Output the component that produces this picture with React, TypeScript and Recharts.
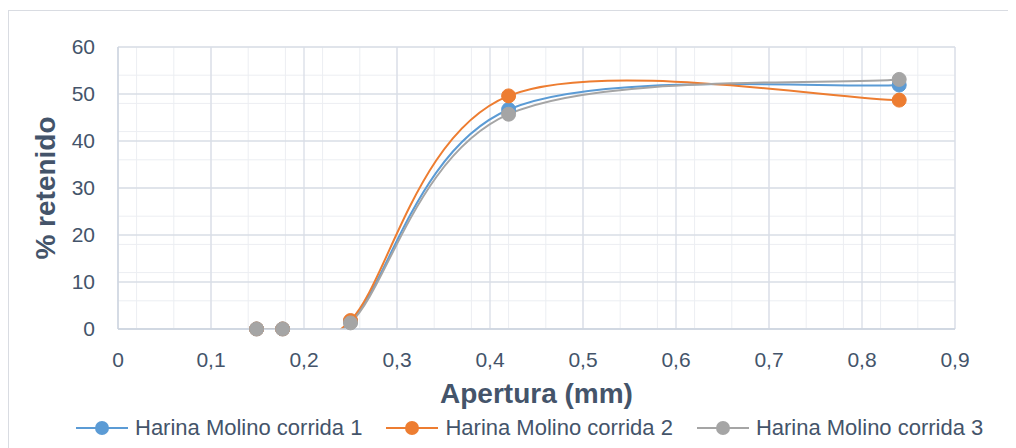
import React from 'react';
import { LineChart, Line, XAxis, YAxis, CartesianGrid, Legend, Label } from 'recharts';

const aperturas = [0.149, 0.177, 0.25, 0.42, 0.84];
const corrida1 = [0, 0, 1.6, 46.7, 51.9];
const corrida2 = [0, 0, 1.8, 49.6, 48.7];
const corrida3 = [0, 0, 1.3, 45.7, 53.1];
const seriesNames = ['Harina Molino corrida 1', 'Harina Molino corrida 2', 'Harina Molino corrida 3'];
const seriesColors = ['#5b9bd5', '#ed7d31', '#a5a5a5'];
const xTicks = [0, 0.1, 0.2, 0.3, 0.4, 0.5, 0.6, 0.7, 0.8, 0.9];
const yTicks = [0, 10, 20, 30, 40, 50, 60];
const xMinorTicks = [0, 0.02, 0.04, 0.06, 0.08, 0.1, 0.12, 0.14, 0.16, 0.18, 0.2, 0.22, 0.24, 0.26, 0.28, 0.3, 0.32, 0.34, 0.36, 0.38, 0.4, 0.42, 0.44, 0.46, 0.48, 0.5, 0.52, 0.54, 0.56, 0.58, 0.6, 0.62, 0.64, 0.66, 0.68, 0.7, 0.72, 0.74, 0.76, 0.78, 0.8, 0.82, 0.84, 0.86, 0.88, 0.9];
const yMinorTicks = [0, 2, 4, 6, 8, 10, 12, 14, 16, 18, 20, 22, 24, 26, 28, 30, 32, 34, 36, 38, 40, 42, 44, 46, 48, 50, 52, 54, 56, 58, 60];

const data = aperturas.map((x, i) => ({ x, s1: corrida1[i], s2: corrida2[i], s3: corrida3[i] }));
const keys = ['s1', 's2', 's3'];

const TEXT = '#44546a';
const FONT = "'Liberation Sans', Arial, sans-serif";

// Excel-like smoothing (Catmull-Rom converted to cubic Bezier)
function excelCurve(context: any) {
  let pts: number[][] = [];
  return {
    areaStart() {},
    areaEnd() {},
    lineStart() { pts = []; },
    point(x: number, y: number) { pts.push([+x, +y]); },
    lineEnd() {
      const n = pts.length;
      if (!n) return;
      context.moveTo(pts[0][0], pts[0][1]);
      for (let i = 0; i < n - 1; i++) {
        const p0 = pts[i - 1] || pts[i];
        const p1 = pts[i];
        const p2 = pts[i + 1];
        const p3 = pts[i + 2] || pts[i + 1];
        context.bezierCurveTo(
          p1[0] + (p2[0] - p0[0]) / 6, p1[1] + (p2[1] - p0[1]) / 6,
          p2[0] - (p3[0] - p1[0]) / 6, p2[1] - (p3[1] - p1[1]) / 6,
          p2[0], p2[1]
        );
      }
    },
  };
}

const fmt = (v: number) => String(v).replace('.', ',');

const YTitle = (props: any) => {
  const vb = props.viewBox || {};
  const cx = vb.x + 37;
  const cy = vb.y + vb.height / 2;
  return (
    <text x={cx} y={cy} transform={`rotate(-90, ${cx}, ${cy})`} textAnchor="middle" dominantBaseline="central"
      fill={TEXT} fontSize={28} fontWeight="bold" fontFamily={FONT}>% retenido</text>
  );
};

const LegendContent = () => (
  <div style={{ display: 'flex', alignItems: 'center', height: 40, paddingLeft: 68, fontFamily: FONT, fontSize: 22, color: TEXT, whiteSpace: 'nowrap' }}>
    {seriesNames.map((name, i) => (
      <div key={name} style={{ display: 'flex', alignItems: 'center', marginRight: 24 }}>
        <svg width={52} height={16} style={{ marginRight: 7 }}>
          <line x1={0} y1={8} x2={52} y2={8} stroke={seriesColors[i]} strokeWidth={2} />
          <circle cx={26} cy={8} r={7} fill={seriesColors[i]} />
        </svg>
        <span>{name}</span>
      </div>
    ))}
  </div>
);

export default function App() {
  return (
    <div style={{ position: 'relative', width: 1008, height: 440, overflow: 'hidden', background: '#fff' }}>
      <div style={{ position: 'absolute', left: 0, top: 2, width: 1200, height: 600, borderLeft: '1px solid #d9dce2', borderTop: '1px solid #d9dce2' }} />
      <div style={{ position: 'absolute', left: 0, top: 0 }}>
        <LineChart width={1008} height={440} data={data} margin={{ top: 39, right: 61, left: 0, bottom: 0 }}>
          <CartesianGrid horizontalValues={yMinorTicks} verticalValues={xMinorTicks} stroke="#eceef2" strokeWidth={1} />
          <CartesianGrid stroke="#d9dee6" strokeWidth={1.3} />
          <XAxis dataKey="x" type="number" domain={[0, 0.9]} ticks={xTicks} tickFormatter={fmt}
            height={79} tickSize={0} tickMargin={23} axisLine={{ stroke: '#cdd4df', strokeWidth: 1.3 }} tickLine={false}
            tick={{ fill: TEXT, fontSize: 21, fontFamily: FONT }}>
            <Label value="Apertura (mm)" position="insideBottom" offset={5} fill={TEXT} fontSize={28} fontWeight="bold" fontFamily={FONT} />
          </XAxis>
          <YAxis type="number" domain={[0, 60]} ticks={yTicks} width={110} tickSize={0} tickMargin={23} allowDataOverflow
            axisLine={{ stroke: '#cdd4df', strokeWidth: 1.3 }} tickLine={false}
            tick={{ fill: TEXT, fontSize: 21, fontFamily: FONT }}>
            <Label content={<YTitle />} />
          </YAxis>
          <Legend verticalAlign="bottom" height={40} content={<LegendContent />} wrapperStyle={{ left: 0, width: 1008 }} />
          {keys.map((k, i) => (
            <Line key={k} dataKey={k} name={seriesNames[i]} type={excelCurve as any} stroke={seriesColors[i]} strokeWidth={2}
              dot={{ r: 7, fill: seriesColors[i], stroke: seriesColors[i], strokeWidth: 1, clipDot: false } as any} activeDot={false} isAnimationActive={false} />
          ))}
        </LineChart>
      </div>
    </div>
  );
}
